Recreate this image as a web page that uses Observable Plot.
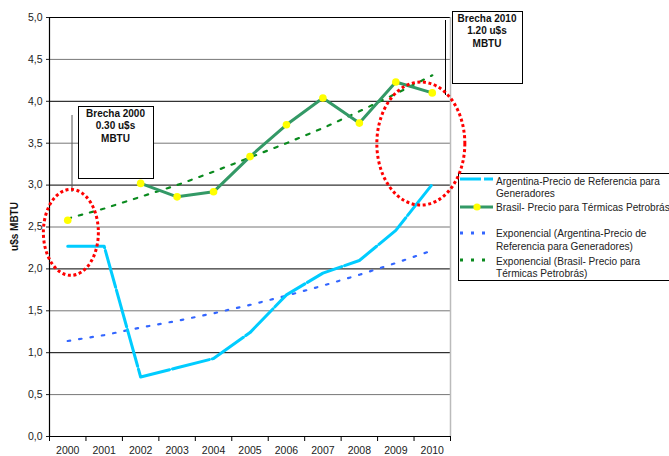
<!DOCTYPE html>
<html>
<head>
<meta charset="utf-8">
<script src="https://cdn.jsdelivr.net/npm/d3@7"></script>
<script src="https://cdn.jsdelivr.net/npm/@observablehq/plot@0.6"></script>
<style>
  body { margin: 0; background: #fff; }
  #chart svg { overflow: hidden; }
</style>
</head>
<body>
<div id="chart"></div>
<script>
// ---- data ----
const years = [2000, 2001, 2002, 2003, 2004, 2005, 2006, 2007, 2008, 2009, 2010];
const argentina = [2.27, 2.27, 0.71, 0.82, 0.93, 1.24, 1.69, 1.95, 2.10, 2.46, 3.01];
const brasil = [2.58, null, 3.02, 2.86, 2.92, 3.34, 3.72, 4.04, 3.74, 4.23, 4.10];
const trendArgentina = [1.14, 1.21, 1.30, 1.38, 1.47, 1.57, 1.68, 1.80, 1.93, 2.07, 2.22];
const trendBrasil = [2.60, 2.72, 2.86, 3.00, 3.16, 3.33, 3.50, 3.68, 3.88, 4.09, 4.31];
const yTicks = [0, 0.5, 1, 1.5, 2, 2.5, 3, 3.5, 4, 4.5, 5];
const xBoundaries = [1999.5, 2000.5, 2001.5, 2002.5, 2003.5, 2004.5, 2005.5, 2006.5, 2007.5, 2008.5, 2009.5, 2010.5];
const yTitle = "u$s MBTU";
const legendLabels = [
  ["Argentina-Precio de Referencia para", "Generadores"],
  ["Brasil- Precio para Térmicas Petrobrás"],
  ["Exponencial (Argentina-Precio de", "Referencia para Generadores)"],
  ["Exponencial (Brasil- Precio para", "Térmicas Petrobrás)"]
];
const notes = [
  {lines: ["Brecha 2000", "0.30 u$s", "MBTU"], ellipseX: 2000.1, ellipseY: 2.43},
  {lines: ["Brecha 2010", "1.20 u$s", "MBTU"], ellipseX: 2009.7, ellipseY: 3.49}
];

const rows = years.map((year, i) => ({
  year, arg: argentina[i], bra: brasil[i], tArg: trendArgentina[i], tBra: trendBrasil[i]
}));
const braPoints = rows.filter(d => d.bra != null);
const fmt = d => d.toFixed(1).replace(".", ",");

const colors = {arg: "#00ccff", bra: "#339966", dot: "#ffff00", tArg: "#3366ff", tBra: "#0a8a1e"};

function decorations(index, scales) {
  const g = d3.create("svg:g").attr("text-anchor", "start");
  // y title
  g.append("text")
    .attr("transform", `translate(18,${(scales.y(0) + scales.y(5)) / 2}) rotate(-90)`)
    .attr("text-anchor", "middle")
    .attr("font-weight", "bold")
    .attr("font-size", 10)
    .attr("fill", "#111")
    .text(yTitle);

  // annotation boxes with leaders
  const boxes = [
    {x: 78, y: 106, w: 75, h: 72, lx: 72, ly1: 115, ly2: 192, lc: "#555"},
    {x: 452, y: 11, w: 70, h: 72, lx: 445.5, ly1: 20, ly2: 95, lc: "#000"}
  ];
  boxes.forEach((b, i) => {
    g.append("line").attr("x1", b.lx).attr("x2", b.lx).attr("y1", b.ly1).attr("y2", b.ly2)
      .attr("stroke", b.lc).attr("stroke-width", 1);
    g.append("rect").attr("x", b.x + 0.5).attr("y", b.y + 0.5).attr("width", b.w).attr("height", b.h)
      .attr("fill", "#fff").attr("stroke", "#000").attr("stroke-width", 1);
    notes[i].lines.forEach((t, j) => {
      g.append("text").attr("x", b.x + b.w / 2).attr("y", b.y + 10.5 + j * 12.8)
        .attr("text-anchor", "middle").attr("font-weight", "bold").attr("font-size", 10)
        .attr("fill", "#111").text(t);
    });
  });

  // legend
  const L = g.append("g");
  L.append("rect").attr("x", 458.5).attr("y", 173.5).attr("width", 230).attr("height", 107)
    .attr("fill", "#fff").attr("stroke", "#000").attr("stroke-width", 1);
  const sx1 = 460, sx2 = 493, tx = 496;
  const sy = [179, 207, 233, 260];
  L.append("line").attr("x1", sx1).attr("x2", sx2).attr("y1", sy[0]).attr("y2", sy[0])
    .attr("stroke", colors.arg).attr("stroke-width", 3).attr("stroke-dasharray", "21,3");
  L.append("line").attr("x1", sx1).attr("x2", sx2).attr("y1", sy[1]).attr("y2", sy[1])
    .attr("stroke", colors.bra).attr("stroke-width", 3);
  L.append("circle").attr("cx", 477).attr("cy", sy[1]).attr("r", 3.6).attr("fill", colors.dot);
  L.append("line").attr("x1", sx1).attr("x2", sx2).attr("y1", sy[2]).attr("y2", sy[2])
    .attr("stroke", colors.tArg).attr("stroke-width", 3).attr("stroke-dasharray", "3,8");
  L.append("line").attr("x1", sx1).attr("x2", sx2).attr("y1", sy[3]).attr("y2", sy[3])
    .attr("stroke", colors.tBra).attr("stroke-width", 3).attr("stroke-dasharray", "3,8");
  const baselines = [[185, 197], [211], [237, 250], [264.5, 277]];
  legendLabels.forEach((lines, i) => {
    lines.forEach((t, j) => {
      L.append("text").attr("x", tx).attr("y", baselines[i][j]).attr("font-size", 10.1)
        .attr("text-anchor", "start").attr("fill", "#222").text(t);
    });
  });

  // red dotted ellipses
  const radii = [[27.5, 43], [44, 61.5]];
  notes.forEach((n, i) => {
    g.append("ellipse")
      .attr("cx", scales.x(n.ellipseX)).attr("cy", scales.y(n.ellipseY))
      .attr("rx", radii[i][0]).attr("ry", radii[i][1])
      .attr("fill", "none").attr("stroke", "#ff0000").attr("stroke-width", 3)
      .attr("stroke-dasharray", "3,2.6");
  });
  return g.node();
}

const chart = Plot.plot({
  width: 669,
  height: 456,
  marginLeft: 49,
  marginRight: 219,
  marginTop: 17,
  marginBottom: 20,
  style: {fontFamily: "'Liberation Sans', Arial, sans-serif", fontSize: "10.5px", background: "#fff"},
  x: {type: "linear", domain: [1999.5, 2010.5], label: null},
  y: {domain: [0, 5], label: null},
  marks: [
    Plot.ruleY(yTicks.filter(v => v % 1 !== 0), {stroke: "#777", strokeWidth: 1}),
    Plot.ruleY(yTicks.filter(v => v % 1 === 0), {stroke: "#000", strokeWidth: 1}),
    Plot.ruleX([2010.5], {stroke: "#bbb", strokeWidth: 1.5}),
    Plot.ruleX([1999.5], {stroke: "#000", strokeWidth: 1.2}),
    Plot.axisY({ticks: yTicks, tickFormat: fmt, tickSize: 3, tickPadding: 4, color: "#222", label: null}),
    Plot.axisX({ticks: xBoundaries, tickFormat: () => "", tickSize: 5, color: "#000", label: null}),
    Plot.axisX({ticks: years, tickFormat: d => String(d), tickSize: 0, tickPadding: 10, color: "#222", label: null}),
    Plot.line(rows, {x: "year", y: "tArg", stroke: colors.tArg, strokeWidth: 2.2, strokeDasharray: "2.5,9"}),
    Plot.line(rows, {x: "year", y: "tBra", stroke: colors.tBra, strokeWidth: 2.2, strokeDasharray: "3.5,8"}),
    Plot.line(rows, {x: "year", y: "arg", stroke: colors.arg, strokeWidth: 3, strokeDasharray: "38,3"}),
    Plot.line(rows, {x: "year", y: "bra", stroke: colors.bra, strokeWidth: 3}),
    Plot.dot(braPoints, {x: "year", y: "bra", r: 3.8, fill: colors.dot, stroke: "none"}),
    decorations
  ]
});
document.getElementById("chart").appendChild(chart);
</script>
</body>
</html>
